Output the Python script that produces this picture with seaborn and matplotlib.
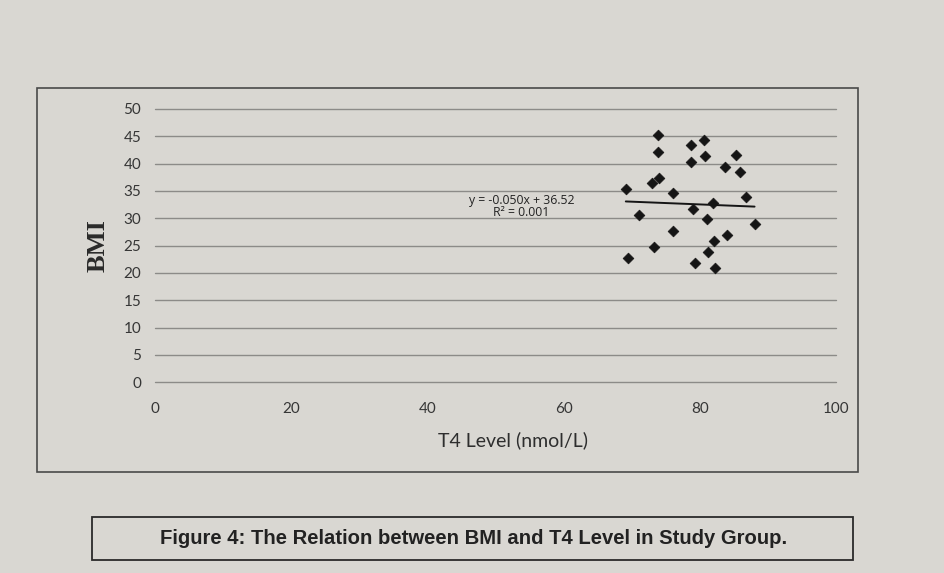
import numpy as np
import pandas as pd
import matplotlib.pyplot as plt
import seaborn as sns
from matplotlib.patches import Rectangle

# T4 level vs BMI values
t4_level = [73.8, 80.6, 78.7, 73.9, 78.7, 80.7, 85.3, 83.7, 85.8, 74.0,
            72.9, 69.1, 76.0, 86.8, 81.9, 79.0, 71.1, 81.0, 88.0, 76.1,
            84.0, 82.1, 73.3, 81.1, 69.4, 79.3, 82.2]
bmi = [45.2, 44.3, 43.3, 42.2, 40.3, 41.4, 41.6, 39.4, 38.5, 37.4,
       36.4, 35.3, 34.6, 33.8, 32.7, 31.6, 30.6, 29.8, 28.9, 27.7,
       26.9, 25.9, 24.8, 23.9, 22.8, 21.8, 20.9]

# trendline as printed on the chart
slope = -0.050
intercept = 36.52
r_squared = 0.001

x_ticks = [0, 20, 40, 60, 80, 100]
y_ticks = [0, 5, 10, 15, 20, 25, 30, 35, 40, 45, 50]

df = pd.DataFrame({'T4': t4_level, 'BMI': bmi})

sns.set_style('white')
plt.rcParams['font.family'] = ['Lato', 'DejaVu Sans']

bg = '#d9d7d2'
fig = plt.figure(figsize=(9.45, 5.73), dpi=100, facecolor=bg)
ax = fig.add_axes([0.164, 0.333, 0.721, 0.477], facecolor=bg)

# outer chart frame and caption box (figure pixel coords converted)
W, H = 945, 573
def frame(x0, y0, x1, y1, **kw):
    fig.patches.append(Rectangle((x0 / W, 1 - y1 / H), (x1 - x0) / W, (y1 - y0) / H,
                                 transform=fig.transFigure, fill=False, **kw))

frame(37, 88, 858, 472, edgecolor='#4a4a4a', linewidth=1.2)
frame(92, 517, 853, 560, edgecolor='#2a2a2a', linewidth=1.3)

for yv in y_ticks:
    ax.axhline(yv, color='#8c8b88', linewidth=1.0, zorder=0, clip_on=False)

sns.scatterplot(data=df, x='T4', y='BMI', marker='D', s=30, color='#151515',
                edgecolor='#151515', linewidth=0.5, ax=ax, zorder=3)

xs = np.array([min(t4_level), max(t4_level)])
ax.plot(xs, slope * xs + intercept, color='#151515', linewidth=1.4, zorder=2)

ax.text(53.8, 33.3, f'y = {slope:.3f}x + {intercept:.2f}', fontsize=8.8,
        color='#222222', ha='center', va='center', family='Open Sans')
ax.text(53.8, 31.0, f'R² = {r_squared:.3f}', fontsize=8.8,
        color='#222222', ha='center', va='center', family='Open Sans')

ax.set_xlim(0, 100)
ax.set_ylim(0, 50)
ax.set_xticks(x_ticks)
ax.set_yticks(y_ticks)
ax.tick_params(length=0, labelsize=11, colors='#363636')
ax.tick_params(axis='x', pad=14)
ax.tick_params(axis='y', pad=10)
for s in ax.spines.values():
    s.set_visible(False)

ax.set_xlabel('T4 Level (nmol/L)', fontsize=14, color='#2e2e2e')
ax.xaxis.set_label_coords(0.525, -0.178)
ax.set_ylabel('BMI', fontsize=19, color='#2a2a2a', family='Liberation Serif',
              fontweight='bold')
ax.yaxis.set_label_coords(-0.067, 0.5)

fig.text(474 / W, 1 - 538 / H, 'Figure 4: The Relation between BMI and T4 Level in Study Group.',
         ha='center', va='center', fontsize=14.6, fontweight='bold',
         family='Liberation Sans', color='#222222')

plt.savefig('out.png', dpi=100, facecolor=bg)
